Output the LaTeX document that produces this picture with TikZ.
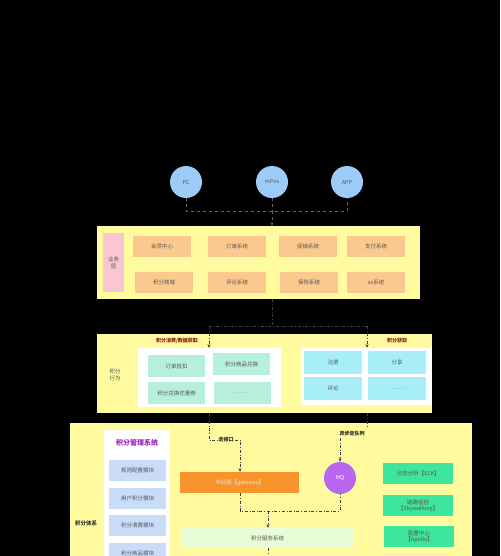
\documentclass[tikz,border=0pt]{standalone}
\usepackage{fontspec}
\setmainfont{Noto Sans CJK SC}
\usetikzlibrary{arrows.meta}
\definecolor{layery}{HTML}{FFFB9E}
\definecolor{pinkc}{HTML}{F8C8D2}
\definecolor{peach}{HTML}{FBC890}
\definecolor{mint}{HTML}{B6F0DA}
\definecolor{cyanc}{HTML}{A8EEF6}
\definecolor{bluec}{HTML}{9CCBF8}
\definecolor{gatec}{HTML}{F7952C}
\definecolor{mqc}{HTML}{B966F0}
\definecolor{greenc}{HTML}{3DE69A}
\definecolor{lgreen}{HTML}{E8FCD8}
\definecolor{modc}{HTML}{C8DCF8}
\definecolor{purt}{HTML}{A020C8}
\definecolor{redt}{HTML}{8B1A1A}
\definecolor{txt}{HTML}{555555}
\tikzset{
  tiny/.style={font=\fontsize{5.5}{6.6}\selectfont, text=txt},
  layer/.style={fill=layery, draw=none, anchor=north west},
  panel/.style={fill=white, draw=none, anchor=north west},
  bizbox/.style={tiny, fill=peach, anchor=north west, minimum width=58pt, minimum height=21pt, inner sep=0pt},
  actbox/.style={tiny, fill=mint, anchor=north west, minimum width=57pt, minimum height=22pt, inner sep=0pt},
  getbox/.style={tiny, fill=cyanc, anchor=north west, minimum width=58pt, minimum height=23pt, inner sep=0pt},
  modbox/.style={tiny, fill=modc, anchor=north west, minimum width=57pt, minimum height=21pt, inner sep=0pt},
  opsbox/.style={tiny, fill=greenc, anchor=north west, minimum width=70pt, minimum height=21pt, inner sep=0pt, align=center},
  client/.style={tiny, circle, fill=bluec, minimum size=32pt, inner sep=0pt},
  topline/.style={draw=black!60, dashed, line width=0.5pt},
  flow/.style={draw=black!75, dash dot, line width=0.6pt},
  tip/.style={-{Stealth[length=4pt,width=3pt]}},
  lbl/.style={font=\fontsize{5}{6}\selectfont\bfseries, inner sep=1pt},
}
\begin{document}
\begin{tikzpicture}[x=1pt,y=-1pt]
\useasboundingbox (0,0) rectangle (500,556);
\clip (0,0) rectangle (500,556);
\fill[black] (0,0) rectangle (500,556);

% clients
\node[client] (pc) at (186,182) {PC};
\node[client] (mpos) at (272,182) {mPos};
\node[client] (app) at (347,182) {APP};

% business layer
\node[layer, minimum width=323pt, minimum height=73pt] (biz) at (97,226) {};
\node[tiny, fill=pinkc, anchor=north west, minimum width=21pt, minimum height=59pt, inner sep=0pt, align=center] (bizl) at (103,233) {业务\\层};
\node[bizbox] (b1) at (133,236) {会员中心};
\node[bizbox] (b2) at (208,236) {订单系统};
\node[bizbox] (b3) at (279,236) {促销系统};
\node[bizbox] (b4) at (347,236) {支付系统};
\node[bizbox] (b5) at (135,272) {积分商城};
\node[bizbox] (b6) at (208,272) {评论系统};
\node[bizbox] (b7) at (280,272) {保险系统};
\node[bizbox] (b8) at (347,272) {xx系统};

% points behaviour layer
\node[layer, minimum width=335pt, minimum height=79pt] (act) at (97,334) {};
\node[tiny, align=center] (actl) at (115,375) {积分\\行为};
\node[panel, minimum width=143pt, minimum height=59pt] (pl) at (138,348) {};
\node[panel, minimum width=131pt, minimum height=57pt] (pr) at (301,348) {};
\node[lbl, text=redt] (lc) at (177,341) {积分消费/数据获取};
\node[lbl, text=redt] (lg) at (397,341) {积分获取};
\node[actbox] (a1) at (148,355) {订单抵扣};
\node[actbox] (a2) at (213,353) {积分商品兑换};
\node[actbox] (a3) at (148,382) {积分兑换优惠券};
\node[actbox] (a4) at (214,382) {. . . . . .};
\node[getbox] (g1) at (304,351) {注册};
\node[getbox] (g2) at (368,351) {分享};
\node[getbox] (g3) at (304,377) {评论};
\node[getbox] (g4) at (368,377) {. . . . . .};

% points system layer
\node[layer, minimum width=402pt, minimum height=150pt] (sys) at (70,423) {};
\node[tiny, font=\fontsize{5.5}{6.6}\selectfont\bfseries, text=black!80] (sysl) at (86,523) {积分体系};
\node[panel, minimum width=66pt, minimum height=140pt] (mgr) at (104,430) {};
\node[font=\fontsize{7}{8}\selectfont\bfseries, text=purt] (mgrt) at (137,443) {积分管理系统};
\node[modbox] (m1) at (109,460) {规则配置模块};
\node[modbox] (m2) at (109,488) {用户积分模块};
\node[modbox] (m3) at (109,515) {积分清算模块};
\node[modbox] (m4) at (109,543) {积分商品模块};
\node[tiny, fill=gatec, text=white!90!black, anchor=north west, minimum width=119pt, minimum height=21pt, inner sep=0pt] (gw) at (180,472) {中间层【gateway】};
\node[tiny, circle, fill=mqc, text=white, minimum size=32pt, inner sep=0pt] (mq) at (340,478) {MQ};
\node[tiny, fill=lgreen, anchor=north west, minimum width=171pt, minimum height=20pt, inner sep=0pt] (svc) at (182,528) {积分服务系统};
\node[opsbox] (o1) at (383,463) {日志分析【ELK】};
\node[opsbox] (o2) at (383,495) {链路监控\\【Skywalking】};
\node[opsbox] (o3) at (384,526) {配置中心\\【Apollo】};
\node[lbl, text=black!85] (lapi) at (226,440) {走接口};
\node[lbl, text=black!85] (lmq) at (352,434) {异步走队列};

% coordinates
\coordinate (j1) at (186,211);
\coordinate (j2) at (272,211);
\coordinate (j3) at (347,211);
\coordinate (k0) at (272,326);
\coordinate (k1) at (209,326);
\coordinate (k2) at (367,326);
\coordinate (h1) at (209,440);
\coordinate (h2) at (240,440);
\coordinate (q1) at (367,428);
\coordinate (s1) at (240,511);
\coordinate (s2) at (340,511);
\coordinate (s3) at (268,511);
\coordinate (e1) at (268,570);

% top connectors
\draw[topline] (pc) -- (j1) -- (j3) -- (app);
\draw[topline] (mpos) -- (j2);
\draw[topline, tip] (j2) -- (j2 |- biz.north);
% business -> behaviour
\draw[flow] (biz.south -| k0) -- (k0);
\draw[flow] (k1) -- (k2);
\draw[flow, tip] (k1) -- (k1 |- pl.north);
\draw[flow, tip] (k2) -- (k2 |- pr.north);
% behaviour -> system
\draw[flow] (act.south -| h1) -- (h1) -- (lapi.west);
\draw[flow, tip] (lapi.east) -- (h2) -- (h2 |- gw.north);
\draw[flow] (act.south -| q1) -- (q1);
\draw[flow, tip] (lmq.south -| mq) -- (mq.north);
\draw[flow] (gw.south -| s1) -- (s1) -- (s2) -- (mq.south);
\draw[flow, tip] (s3) -- (s3 |- svc.north);
\draw[flow] (svc.south -| e1) -- (e1);
\end{tikzpicture}
\end{document}
